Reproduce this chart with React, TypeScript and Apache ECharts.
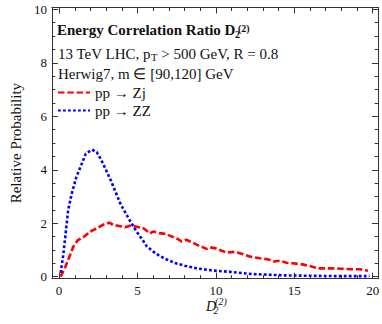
import React, { useEffect, useRef } from "react";
import * as echarts from "echarts";

// pp -> Zj (red dashed)
const zjX = [0.1, 0.4, 0.7, 0.9, 1.2, 1.6, 2.0, 2.4, 2.8, 3.2, 3.5, 3.8, 4.2, 4.6, 5.0, 5.4, 5.8, 6.0, 6.4, 6.8, 7.2, 7.6, 7.8, 8.1, 8.5, 8.8, 9.1, 9.4, 9.6, 10.0, 10.5, 10.7, 11.2, 11.7, 12.2, 12.8, 13.3, 13.7, 14.1, 14.5, 14.9, 15.5, 16.0, 16.5, 17.0, 17.6, 18.0, 18.6, 19.2, 19.7];
const zjY = [0.0, 0.37, 0.81, 1.12, 1.37, 1.5, 1.69, 1.81, 1.94, 2.02, 1.92, 1.9, 1.85, 1.92, 1.86, 1.8, 1.62, 1.69, 1.63, 1.6, 1.5, 1.4, 1.32, 1.38, 1.28, 1.19, 1.12, 1.04, 1.1, 1.06, 0.94, 0.9, 0.93, 0.85, 0.75, 0.69, 0.65, 0.57, 0.6, 0.52, 0.5, 0.46, 0.4, 0.31, 0.31, 0.31, 0.3, 0.28, 0.28, 0.22];

// pp -> ZZ (blue dotted)
const zzX = [0.1, 0.28, 0.44, 0.58, 0.8, 1.1, 1.4, 1.7, 2.1, 2.4, 2.7, 3.0, 3.3, 3.6, 3.9, 4.25, 4.55, 4.95, 5.3, 5.6, 6.0, 6.4, 6.8, 7.4, 8.0, 8.8, 9.8, 10.9, 12.3, 14.3, 16.4, 18.0, 19.8];
const zzY = [0.14, 0.88, 1.75, 2.5, 3.1, 3.73, 4.16, 4.6, 4.75, 4.66, 4.35, 3.98, 3.6, 3.17, 2.74, 2.37, 2.06, 1.68, 1.4, 1.13, 0.94, 0.78, 0.66, 0.51, 0.41, 0.31, 0.23, 0.18, 0.1, 0.05, 0.03, 0.02, 0.02];

const seriesNames = ["pp \u2192 Zj", "pp \u2192 ZZ"];
const xMajorTicks = [0, 5, 10, 15, 20];
const xMinorTicks = [1, 2, 3, 4, 6, 7, 8, 9, 11, 12, 13, 14, 16, 17, 18, 19];
const yMajorTicks = [0, 2, 4, 6, 8, 10];
const yMinorTicks = [0.5, 1, 1.5, 2.5, 3, 3.5, 4.5, 5, 5.5, 6.5, 7, 7.5, 8.5, 9, 9.5];

const FONT = "Liberation Serif";
const AX = "#333";
const TXT = "#111";
const X_MIN = -0.46;
const X_MAX = 20.34;
const Y_MIN = -0.075;
const Y_MAX = 10.07;

const tickRich = { t: { fontFamily: FONT, fontSize: 13, color: TXT } };

function measure(text: string, font: string): number {
  const c = document.createElement("canvas").getContext("2d");
  if (!c) return text.length * 7;
  c.font = font;
  return c.measureText(text).width;
}

function xAxisDef(position: "top" | "bottom", ticks: number[], len: number, labels: boolean, line: boolean) {
  return {
    type: "value",
    position,
    min: X_MIN,
    max: X_MAX,
    splitLine: { show: false },
    axisLine: { show: line, onZero: false, lineStyle: { color: AX, width: 1 } },
    axisTick: { show: true, inside: true, length: len, customValues: ticks, lineStyle: { color: AX, width: 1 } },
    axisLabel: labels
      ? {
          show: true,
          customValues: ticks,
          margin: 5,
          fontFamily: FONT,
          fontSize: 13,
          color: TXT,
          formatter: (v: number) => `{t|${v}}`,
          rich: tickRich,
        }
      : { show: false },
  };
}

function yAxisDef(position: "left" | "right", ticks: number[], len: number, labels: boolean, line: boolean) {
  return {
    type: "value",
    position,
    min: Y_MIN,
    max: Y_MAX,
    splitLine: { show: false },
    axisLine: { show: line, onZero: false, lineStyle: { color: AX, width: 1 } },
    axisTick: { show: true, inside: true, length: len, customValues: ticks, lineStyle: { color: AX, width: 1 } },
    axisLabel: labels
      ? {
          show: true,
          customValues: ticks,
          margin: 5,
          fontFamily: FONT,
          fontSize: 13,
          color: TXT,
          formatter: (v: number) => `{t|${v}}`,
          rich: tickRich,
        }
      : { show: false },
  };
}

export default function App() {
  const ref = useRef<HTMLDivElement>(null);
  useEffect(() => {
    if (!ref.current) return;
    const chart = echarts.init(ref.current, null, { renderer: "svg" });
    const zjData = zjX.map((x, i) => [x, zjY[i]]);
    const zzData = zzX.map((x, i) => [x, zzY[i]]);
    const yMain: any = yAxisDef("left", yMajorTicks, 6, true, true);
    yMain.name = "{n|Relative Probability}";
    yMain.nameLocation = "middle";
    yMain.nameGap = 24;
    yMain.nameTextStyle = {
      fontFamily: FONT,
      fontSize: 15,
      color: TXT,
      rich: { n: { fontFamily: FONT, fontSize: 15, color: TXT } },
    };

    const titleMain = "Energy Correlation Ratio D";
    const titleLeft = 57;
    const titleEnd = titleLeft + measure(titleMain, `bold 15px "${FONT}"`);
    const xNameLeft = 206;
    const xNameEnd = xNameLeft + measure("D", `italic 14px "${FONT}"`);

    chart.setOption({
      animation: false,
      backgroundColor: "#fff",
      textStyle: { fontFamily: FONT },
      grid: { left: 40, right: 2, top: 7.5, bottom: 45.3, containLabel: false },
      xAxis: [
        xAxisDef("bottom", xMajorTicks, 6, true, true),
        xAxisDef("bottom", xMinorTicks, 3.5, false, false),
        xAxisDef("top", xMajorTicks, 6, false, true),
        xAxisDef("top", xMinorTicks, 3.5, false, false),
      ],
      yAxis: [
        yMain,
        yAxisDef("left", yMinorTicks, 3.5, false, false),
        yAxisDef("right", yMajorTicks, 6, false, true),
        yAxisDef("right", yMinorTicks, 3.5, false, false),
      ],
      legend: {
        orient: "vertical",
        left: 57,
        top: 85,
        padding: 0,
        itemWidth: 32,
        itemHeight: 14,
        itemGap: 3,
        itemStyle: { opacity: 0 },
        textStyle: { fontFamily: FONT, fontSize: 15, color: TXT },
        data: seriesNames,
      },
      series: [
        {
          name: seriesNames[0],
          type: "line",
          data: zjData,
          showSymbol: false,
          symbol: "none",
          xAxisIndex: 0,
          yAxisIndex: 0,
          lineStyle: { color: "#ff0000", width: 2.6, type: [6.5, 2.8] },
          itemStyle: { color: "#ff0000" },
        },
        {
          name: seriesNames[1],
          type: "line",
          data: zzData,
          showSymbol: false,
          symbol: "none",
          xAxisIndex: 0,
          yAxisIndex: 0,
          lineStyle: { color: "#0000ff", width: 2.6, type: [2.8, 2.2] },
          itemStyle: { color: "#0000ff" },
        },
      ],
      graphic: [
        {
          type: "text",
          x: titleLeft,
          y: 30.2,
          style: { text: titleMain, fontFamily: FONT, fontSize: 15, fontWeight: "bold", fill: TXT, verticalAlign: "middle" },
        },
        {
          type: "text",
          x: titleEnd + 2.5,
          y: 28.2,
          style: { text: "(2)", fontFamily: FONT, fontSize: 10, fontWeight: "bold", fill: TXT, verticalAlign: "middle" },
        },
        {
          type: "text",
          x: titleEnd - 0.5,
          y: 34.5,
          style: { text: "2", fontFamily: FONT, fontSize: 10, fontWeight: "bold", fill: TXT, verticalAlign: "middle" },
        },
        {
          type: "text",
          x: 58,
          y: 53.6,
          style: {
            text: "13 TeV LHC, p{sub|T} > 500 GeV, R = 0.8",
            fontFamily: FONT,
            fontSize: 15,
            fill: TXT,
            verticalAlign: "middle",
            lineHeight: 18,
            rich: { sub: { fontFamily: FONT, fontSize: 10.5, fill: TXT, verticalAlign: "bottom", lineHeight: 11 } },
          },
        },
        {
          type: "text",
          x: 58,
          y: 73.6,
          style: { text: "Herwig7, m \u2208 [90,120] GeV", fontFamily: FONT, fontSize: 15, fill: TXT, verticalAlign: "middle" },
        },
        {
          type: "text",
          x: xNameLeft,
          y: 306.9,
          style: { text: "D", fontFamily: FONT, fontSize: 14, fontStyle: "italic", fill: TXT, verticalAlign: "middle" },
        },
        {
          type: "text",
          x: xNameEnd - 1,
          y: 301.6,
          style: { text: "(2)", fontFamily: FONT, fontSize: 10, fontStyle: "italic", fill: TXT, verticalAlign: "middle" },
        },
        {
          type: "text",
          x: xNameEnd - 2.5,
          y: 310,
          style: { text: "2", fontFamily: FONT, fontSize: 10, fontStyle: "italic", fill: TXT, verticalAlign: "middle" },
        },
      ],
    });
    return () => chart.dispose();
  }, []);
  return (
    <div
      ref={ref}
      style={{ position: "fixed", left: 0, top: 0, width: 382, height: 324, background: "#fff" }}
    />
  );
}
